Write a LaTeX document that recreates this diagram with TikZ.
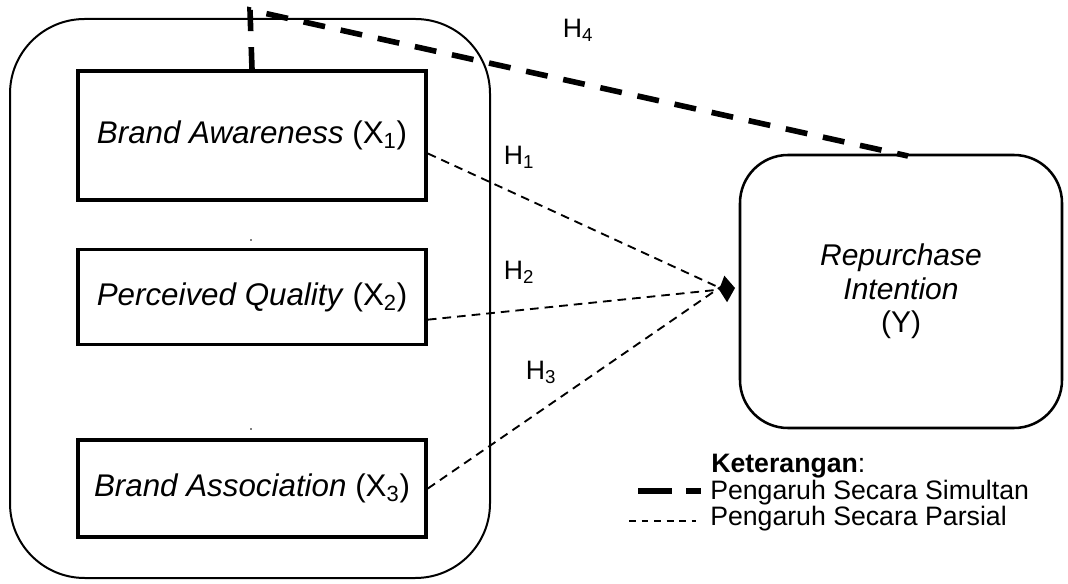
\documentclass[tikz,border=0pt]{standalone}
\usepackage{fontspec}
\setmainfont{Liberation Sans}
\usetikzlibrary{arrows.meta}
\begin{document}
\begin{tikzpicture}[x=0.75pt,y=-0.75pt,
  varbox/.style={draw,line width=2.8pt,minimum width=348*0.75pt,inner sep=0pt,font=\fontsize{23.5}{27}\selectfont},
  thinDash/.style={line width=1.4pt,dash pattern=on 6.5pt off 4.5pt},
  thickDash/.style={line width=4.2pt,dash pattern=on 16.5pt off 12pt},
  lbl/.style={font=\fontsize{20}{23}\selectfont,inner sep=0pt},
  dot/.style={fill=gray,inner sep=0pt,minimum size=1.2pt}]
\useasboundingbox (0,0) rectangle (1068,584);
% outer rounded frame
\draw[line width=1.5pt,rounded corners=56pt] (10,19) rectangle (490,578);
% variable boxes
\node[varbox,minimum height=129*0.75pt] (b1) at (252,135.5) {\textit{Brand Awareness} (X\textsubscript{1})};
\node[varbox,minimum height=95*0.75pt] (b2) at (252,297) {\textit{Perceived Quality} (X\textsubscript{2})};
\node[varbox,minimum height=97*0.75pt] (b3) at (252,488.5) {\textit{Brand Association} (X\textsubscript{3})};
\node[dot] (d1) at (251,240) {};
\node[dot] (d2) at (251,429) {};
% dependent variable
\node[draw,line width=1.9pt,rounded corners=36pt,minimum width=322*0.75pt,minimum height=273*0.75pt,
  align=center,font=\fontsize{22.5}{26}\selectfont] (y) at (901,291.5)
  {\textit{Repurchase}\\[-1pt]\textit{Intention}\\[-1pt](Y)};
% connectors
\coordinate (tip) at (735,288);
\coordinate (top) at (250,10);
\coordinate (yend) at (908,156);
\draw[thickDash] (b1.north) -- (top) -- (yend);
\draw[thinDash] ([yshift=-13.5pt]b1.east) -- ([xshift=-9pt,yshift=-1pt]tip);
\draw[thinDash,-{Kite[length=12pt,width=20pt,inset=5pt]}] ([yshift=-17pt]b2.east) -- (tip);
\draw[thinDash] ([yshift=0pt]b3.east) -- ([xshift=-9pt,yshift=2pt]tip);
% hypothesis labels
\node[lbl] (h4) at (578,30) {H\textsubscript{4}};
\node[lbl] (h1) at (519,157) {H\textsubscript{1}};
\node[lbl] (h2) at (519,272) {H\textsubscript{2}};
\node[lbl] (h3) at (541,372) {H\textsubscript{3}};
% legend
\node[lbl,anchor=west] (k) at (711,466) {\textbf{Keterangan}:};
\node[lbl,anchor=west] (l1) at (710,493) {Pengaruh Secara Simultan};
\node[lbl,anchor=west] (l2) at (710,519) {Pengaruh Secara Parsial};
\coordinate (s1) at (638,491);
\coordinate (s2) at (672,491);
\coordinate (s3) at (686,491);
\coordinate (s4) at (701,491);
\draw[line width=4.2pt] (s1) -- (s2);
\draw[line width=4.2pt] (s3) -- (s4);
\coordinate (p1) at (629,521);
\coordinate (p2) at (696,521);
\draw[line width=1.2pt,dash pattern=on 5.2pt off 4.2pt] (p1) -- (p2);
\end{tikzpicture}
\end{document}
